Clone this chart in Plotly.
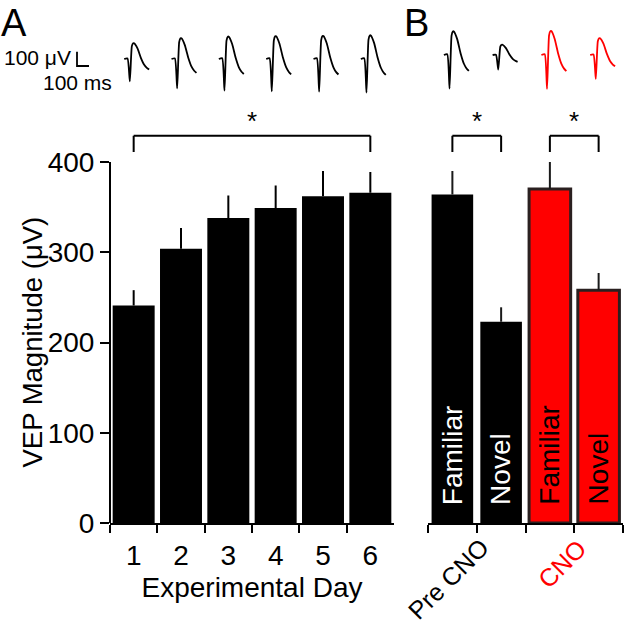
import plotly.graph_objects as go

W, H = 626, 630
FONT = "Liberation Sans, Arial, sans-serif"
RED = "#ff0000"

# panel A: VEP magnitude per experimental day
days = ["1", "2", "3", "4", "5", "6"]
day_vep = [241, 304, 338, 349, 362, 366]
day_sem = [17, 23, 25, 25, 28, 23]

# panel B: familiar vs novel, pre CNO and CNO
cno_cats = ["pre_fam", "pre_nov", "cno_fam", "cno_nov"]
cno_stim = ["Familiar", "Novel", "Familiar", "Novel"]
cno_groups = ["Pre CNO", "CNO"]
cno_vep = [364, 223, 370, 258]
cno_sem = [26, 16, 30, 19]

# average VEP trace template (ms, relative voltage) and trough-to-peak amplitudes (uV)
wave_t = [0, 28, 47, 64, 75, 83, 111, 139, 167, 189, 208]
wave_shape = [0, 0.013, -0.587, 0.339, 0.413, 0.413, 0.278, 0.032, -0.153, -0.235, -0.278]
day_wave_amp = [266, 350, 378, 385, 390, 400]
cno_wave_amp = [400, 173, 405, 285]

sig_pairs_a = [(0, 5)]
sig_pairs_b = [(0, 1), (2, 3)]


def px_x(p):
    return p / W


def px_y(p):
    return 1 - p / H


# geometry (pixels)
AX_A = (110, 394)
AX_B = (428, 623)
Y0_PX = 523
PX_PER_UV = 0.9025
Y_MAX = 460
TOP_PX = Y0_PX - Y_MAX * PX_PER_UV
CAT_A = (AX_A[1] - AX_A[0]) / len(days)
CAT_B = (AX_B[1] - AX_B[0]) / len(cno_cats)
WAVE_UV_PER_PX = 7.0      # 100 uV scale bar ~14.3 px
WAVE_PX_PER_MS = 0.12     # 100 ms scale bar ~12 px

fig = go.Figure()

fig.add_trace(go.Bar(
    x=days, y=day_vep, width=0.887,
    marker=dict(color="black", line=dict(width=0)),
    error_y=dict(type="data", symmetric=False, array=day_sem, arrayminus=[0] * len(days),
                 width=0, thickness=2, color="black"),
    xaxis="x", yaxis="y"))

fig.add_trace(go.Bar(
    x=cno_cats, y=cno_vep, width=0.853,
    marker=dict(color=["black", "black", RED, RED],
                line=dict(color=["black", "black", "#2a2020", "#2a2020"], width=[0, 0, 3, 3])),
    error_y=dict(type="data", symmetric=False, array=cno_sem, arrayminus=[0] * len(cno_cats),
                 width=0, thickness=2, color="#1a1a1a"),
    xaxis="x2", yaxis="y2"))

# waveforms above the bars
ms_per_cat_a = CAT_A / WAVE_PX_PER_MS
ms_per_cat_b = CAT_B / WAVE_PX_PER_MS
for i, amp in enumerate(day_wave_amp):
    fig.add_trace(go.Scatter(
        x=[i - 9.5 / CAT_A + t / ms_per_cat_a for t in wave_t],
        y=[amp * v for v in wave_shape],
        mode="lines", line=dict(color="black", width=1.8, shape="spline", smoothing=0.5),
        xaxis="x3", yaxis="y3"))
for i, amp in enumerate(cno_wave_amp):
    fig.add_trace(go.Scatter(
        x=[i - 8.5 / CAT_B + t / ms_per_cat_b for t in wave_t],
        y=[amp * v for v in wave_shape],
        mode="lines", line=dict(color="black" if i < 2 else RED, width=1.8, shape="spline", smoothing=0.5),
        xaxis="x4", yaxis="y4"))

# scale bar 100 uV / 100 ms
sb_x = (77 - AX_A[0]) / CAT_A - 0.5
sb_y = -49
fig.add_trace(go.Scatter(
    x=[sb_x, sb_x, sb_x + 100 / ms_per_cat_a], y=[sb_y + 100, sb_y, sb_y],
    mode="lines", line=dict(color="black", width=1.8), xaxis="x3", yaxis="y3"))

axis_common = dict(showgrid=False, zeroline=False, color="black", automargin=False,
                   tickfont=dict(family=FONT, size=28, color="black"))

fig.update_layout(
    width=W, height=H, margin=dict(l=0, r=0, t=0, b=0, pad=0),
    paper_bgcolor="white", plot_bgcolor="white", showlegend=False,
    font=dict(family=FONT, color="black"),
    xaxis=dict(domain=[px_x(AX_A[0]), px_x(AX_A[1])], anchor="y", type="category",
               range=[-0.5, len(days) - 0.5],
               showline=True, linewidth=2, linecolor="black",
               ticks="outside", tickson="boundaries", ticklen=8, tickwidth=2,
               ticklabelstandoff=6,
               title=dict(text="Experimental Day", font=dict(family=FONT, size=28), standoff=8),
               **axis_common),
    yaxis=dict(domain=[px_y(Y0_PX), px_y(TOP_PX)], anchor="x", range=[0, Y_MAX],
               tickvals=[0, 100, 200, 300, 400], showline=False,
               ticks="outside", ticklen=9, tickwidth=2, **axis_common),
    xaxis2=dict(domain=[px_x(AX_B[0]), px_x(AX_B[1])], anchor="y2", type="category",
                range=[-0.5, len(cno_cats) - 0.5],
                showline=True, linewidth=2, linecolor="black",
                ticks="outside", tickson="boundaries", ticklen=8, tickwidth=2,
                showticklabels=False, **axis_common),
    yaxis2=dict(domain=[px_y(Y0_PX), px_y(TOP_PX)], anchor="x2", range=[0, Y_MAX], visible=False),
    xaxis3=dict(domain=[0, px_x(AX_A[1])], anchor="y3",
                range=[-0.5 - AX_A[0] / CAT_A, len(days) - 0.5], visible=False),
    yaxis3=dict(domain=[px_y(TOP_PX), 1], anchor="x3",
                range=[-(TOP_PX - 59) * WAVE_UV_PER_PX, 59 * WAVE_UV_PER_PX], visible=False),
    xaxis4=dict(domain=[px_x(AX_B[0]), px_x(AX_B[1])], anchor="y4",
                range=[-0.5, len(cno_cats) - 0.5], visible=False),
    yaxis4=dict(domain=[px_y(TOP_PX), 1], anchor="x4",
                range=[-(TOP_PX - 55) * WAVE_UV_PER_PX, 55 * WAVE_UV_PER_PX], visible=False),
)

# y axis line only from 0 to 400
fig.add_shape(type="line", xref="paper", yref="y", x0=px_x(AX_A[0]), x1=px_x(AX_A[0]),
              y0=0, y1=400, line=dict(color="black", width=2))

# significance brackets
BR_TOP, BR_LEG = 429, 411


def bracket(xr, yr, a, b):
    for x0, y0, x1, y1 in [(a, BR_LEG, a, BR_TOP), (a, BR_TOP, b, BR_TOP), (b, BR_TOP, b, BR_LEG)]:
        fig.add_shape(type="line", xref=xr, yref=yr, x0=x0, y0=y0, x1=x1, y1=y1,
                      line=dict(color="black", width=2))
    fig.add_annotation(x=(a + b) / 2, y=445, xref=xr, yref=yr, text="*", showarrow=False,
                       xanchor="center", yanchor="middle",
                       font=dict(family=FONT, size=26, color="black"))


for a, b in sig_pairs_a:
    bracket("x", "y", a, b)
for a, b in sig_pairs_b:
    bracket("x2", "y2", a, b)

# labels inside panel B bars
for i, s in enumerate(cno_stim):
    fig.add_annotation(x=i, y=18, xref="x2", yref="y2", text=s, textangle=-90,
                       xanchor="center", yanchor="bottom", showarrow=False,
                       font=dict(family=FONT, size=28, color="white" if i < 2 else "black"))

# group labels under panel B
for g, name in enumerate(cno_groups):
    fig.add_annotation(x=2 * g + 0.5, y=px_y(531), xref="x2", yref="paper", text=name,
                       textangle=-45, xanchor="right", yanchor="top", xshift=20, showarrow=False,
                       font=dict(family=FONT, size=25, color="black" if g == 0 else RED))

# y axis title centred on the 0-400 range
fig.add_annotation(x=px_x(32), y=200, xref="paper", yref="y", text="VEP Magnitude (μV)",
                   textangle=-90, xanchor="center", yanchor="middle", showarrow=False,
                   font=dict(family=FONT, size=27.5))

# panel letters and scale bar text
for txt, cx in [("A", 14), ("B", 416)]:
    fig.add_annotation(x=px_x(cx), y=1, xref="paper", yref="paper", text=txt,
                       xanchor="center", yanchor="top", showarrow=False,
                       font=dict(family=FONT, size=38))
fig.add_annotation(x=px_x(73), y=px_y(57), xref="paper", yref="paper", text="100 μV",
                   xanchor="right", yanchor="middle", showarrow=False, font=dict(family=FONT, size=21))
fig.add_annotation(x=px_x(114), y=px_y(83), xref="paper", yref="paper", text="100 ms",
                   xanchor="right", yanchor="middle", showarrow=False, font=dict(family=FONT, size=21))

fig.write_html("out.html", config={"displayModeBar": False},
               post_script="document.body.style.margin='0';")
